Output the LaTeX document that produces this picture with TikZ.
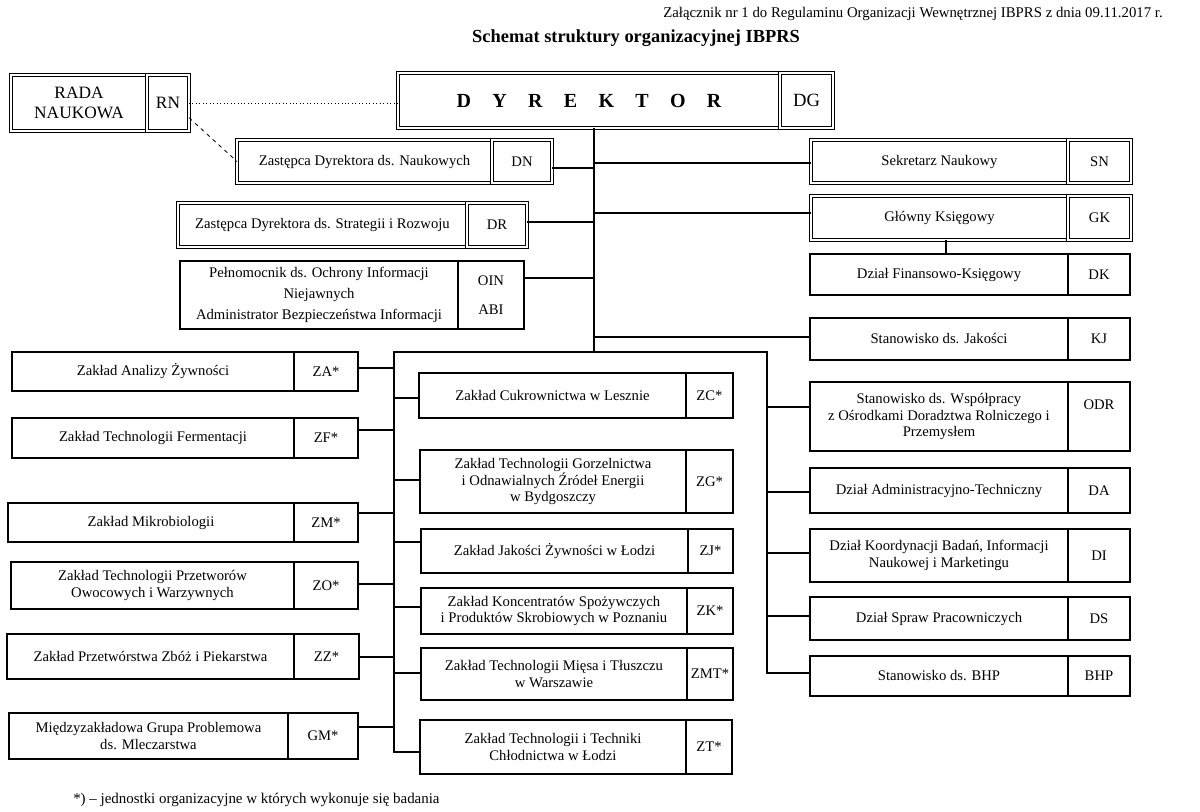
\documentclass[tikz,border=0pt]{standalone}
\usepackage{fontspec}
\setmainfont{Liberation Serif}
\tikzset{
  cell/.style={draw, line width=0.8pt, inner sep=0pt, outer sep=0pt, align=center,
    font=\fontsize{11}{12.5}\selectfont},
  dbl/.style={double, line width=0.6pt, double distance=1.3pt},
  conn/.style={line width=0.8pt},
}
\newcommand\bx[7][]{\node[cell,#1,minimum width={(#5-#3)*0.75pt},minimum height={(#6-#4)*0.75pt}] (#2) at ({(#3+#5)/2},{(#4+#6)/2}) {#7};}
\newcommand\br[3]{\path (0,#3) coordinate (yy); \draw[conn] (#1 |- yy) -- (#2 |- yy);}
\begin{document}
\begin{tikzpicture}[x=0.75pt,y=-0.75pt]
\useasboundingbox (0,0) rectangle (1200,812);
% header
\node[font=\fontsize{11.1}{12}\selectfont, anchor=east, inner sep=0pt] (hdr) at (1163,14) {Załącznik nr 1 do Regulaminu Organizacji Wewnętrznej IBPRS z dnia 09.11.2017 r.};
\node[font=\fontsize{13.8}{15}\selectfont\bfseries, inner sep=0pt] (title) at (636,38) {Schemat struktury organizacyjnej IBPRS};
% top
\bx[dbl,font=\fontsize{13}{15}\selectfont]{RADA}{11}{75}{147}{131}{RADA\\NAUKOWA}
\bx[dbl,font=\fontsize{13}{15}\selectfont]{RN}{147}{75}{189}{131}{RN}
\bx[dbl,font=\fontsize{15}{18}\selectfont\bfseries]{DYR}{398}{73}{780}{128}{D\hspace{16pt}Y\hspace{16pt}R\hspace{16pt}E\hspace{16pt}K\hspace{16pt}T\hspace{16pt}O\hspace{16pt}R}
\bx[dbl,font=\fontsize{14}{16}\selectfont]{DG}{780}{73}{833}{128}{DG}
\bx[dbl]{DN}{237}{140}{492}{183}{Zastępca Dyrektora ds. Naukowych}
\bx[dbl]{DNc}{492}{140}{552}{183}{DN}
\bx[dbl]{DR}{178}{203}{467}{247}{Zastępca Dyrektora ds. Strategii i Rozwoju}
\bx[dbl]{DRc}{467}{203}{527}{247}{DR}
\bx[font=\fontsize{11}{15.5}\selectfont]{OIN}{180}{261}{458}{329}{Pełnomocnik ds. Ochrony Informacji\\Niejawnych\\Administrator Bezpieczeństwa Informacji}
\bx[font=\fontsize{11}{22}\selectfont]{OINc}{458}{261}{524}{329}{OIN\\ABI}
\bx[dbl]{SN}{811}{140}{1068}{183}{Sekretarz Naukowy}
\bx[dbl]{SNc}{1068}{140}{1131}{183}{SN}
\bx[dbl]{GK}{811}{196}{1068}{240}{Główny Księgowy}
\bx[dbl]{GKc}{1068}{196}{1131}{240}{GK}
\bx{DK}{810}{254}{1068}{295}{Dział Finansowo-Księgowy}
\bx{DKc}{1068}{254}{1130}{295}{DK}
\bx{KJ}{810}{318}{1068}{360}{Stanowisko ds. Jakości}
\bx{KJc}{1068}{318}{1130}{360}{KJ}
% left column
\bx{ZA}{12}{352}{294}{391}{Zakład Analizy Żywności}
\bx{ZAc}{294}{352}{358}{391}{ZA*}
\bx{ZF}{12}{418}{294}{458}{Zakład Technologii Fermentacji}
\bx{ZFc}{294}{418}{358}{458}{ZF*}
\bx{ZM}{8}{503}{294}{542}{Zakład Mikrobiologii}
\bx{ZMc}{294}{503}{358}{542}{ZM*}
\bx{ZO}{11}{562}{294}{609}{Zakład Technologii Przetworów\\Owocowych i Warzywnych}
\bx{ZOc}{294}{562}{358}{609}{ZO*}
\bx{ZZ}{7}{634}{294}{679}{Zakład Przetwórstwa Zbóż i Piekarstwa}
\bx{ZZc}{294}{634}{359}{679}{ZZ*}
\bx{GM}{9}{713}{288}{759}{Międzyzakładowa Grupa Problemowa\\ds. Mleczarstwa}
\bx{GMc}{288}{713}{358}{759}{GM*}
% middle column
\bx{ZC}{419}{373}{686}{418}{Zakład Cukrownictwa w Lesznie}
\bx{ZCc}{686}{373}{733}{418}{ZC*}
\bx{ZG}{420}{450}{686}{513}{Zakład Technologii Gorzelnictwa\\i Odnawialnych Źródeł Energii\\w Bydgoszczy}
\bx{ZGc}{686}{450}{733}{513}{ZG*}
\bx{ZJ}{421}{529}{688}{573}{Zakład Jakości Żywności w Łodzi}
\bx{ZJc}{688}{529}{733}{573}{ZJ*}
\bx{ZK}{421}{588}{687}{634}{Zakład Koncentratów Spożywczych\\i Produktów Skrobiowych w Poznaniu}
\bx{ZKc}{687}{588}{733}{634}{ZK*}
\bx{ZMT}{421}{648}{687}{700}{Zakład Technologii Mięsa i Tłuszczu\\w Warszawie}
\bx{ZMTc}{687}{648}{733}{700}{ZMT*}
\bx{ZT}{420}{720}{686}{774}{Zakład Technologii i Techniki\\Chłodnictwa w Łodzi}
\bx{ZTc}{686}{720}{732}{774}{ZT*}
% right column
\bx{ODR}{810}{382}{1068}{451}{Stanowisko ds. Współpracy\\z Ośrodkami Doradztwa Rolniczego i\\Przemysłem}
\bx{ODRc}{1068}{382}{1130}{451}{\raisebox{8.6pt}[\height][\depth]{ODR}}
\bx{DA}{810}{468}{1068}{513}{Dział Administracyjno-Techniczny}
\bx{DAc}{1068}{468}{1130}{513}{DA}
\bx{DI}{810}{529}{1068}{582}{Dział Koordynacji Badań, Informacji\\Naukowej i Marketingu}
\bx{DIc}{1068}{529}{1130}{582}{DI}
\bx{DS}{810}{597}{1068}{640}{Dział Spraw Pracowniczych}
\bx{DSc}{1068}{597}{1130}{640}{DS}
\bx{BHP}{810}{656}{1068}{696}{Stanowisko ds. BHP}
\bx{BHPc}{1068}{656}{1130}{696}{BHP}
% connectors
\coordinate (tx) at (594,352);
\coordinate (bl) at (394,352);
\coordinate (br) at (767,352);
\draw[dotted, line width=0.6pt] (RN.east) -- (RN.east -| DYR.west);
\draw[dashed, line width=0.6pt] (RN.-35) -- (DN.west);
\draw[conn] (DYR.south -| tx) -- (tx);
\br{DNc.east}{tx}{168}
\br{SN.west}{tx}{163}
\br{DRc.east}{tx}{222}
\br{GK.west}{tx}{213}
\br{OINc.east}{tx}{278}
\br{KJ.west}{tx}{337}
\path (946,0) coordinate (xx);
\draw[conn] (GK.south -| xx) -- (DK.north -| xx);
\path (0,752) coordinate (yb);
\path (0,673) coordinate (yr);
\draw[conn] (ZT.west |- yb) -- (bl |- yb) -- (bl) -- (br) -- (br |- yr) -- (BHP.west |- yr);
\br{ZAc.east}{bl}{368}
\br{ZFc.east}{bl}{430}
\br{ZMc.east}{bl}{513}
\br{ZOc.east}{bl}{584}
\br{ZZc.east}{bl}{657}
\br{GMc.east}{bl}{727}
\br{ZC.west}{bl}{398}
\br{ZG.west}{bl}{480}
\br{ZJ.west}{bl}{542}
\br{ZK.west}{bl}{607}
\br{ZMT.west}{bl}{673}
\br{ODR.west}{br}{407}
\br{DA.west}{br}{492}
\br{DI.west}{br}{553}
\br{DS.west}{br}{616}
% footnote
\node[font=\fontsize{11.2}{12}\selectfont, anchor=west, inner sep=0pt] (foot) at (73,800) {*) – jednostki organizacyjne w których wykonuje się badania};
\end{tikzpicture}
\end{document}
